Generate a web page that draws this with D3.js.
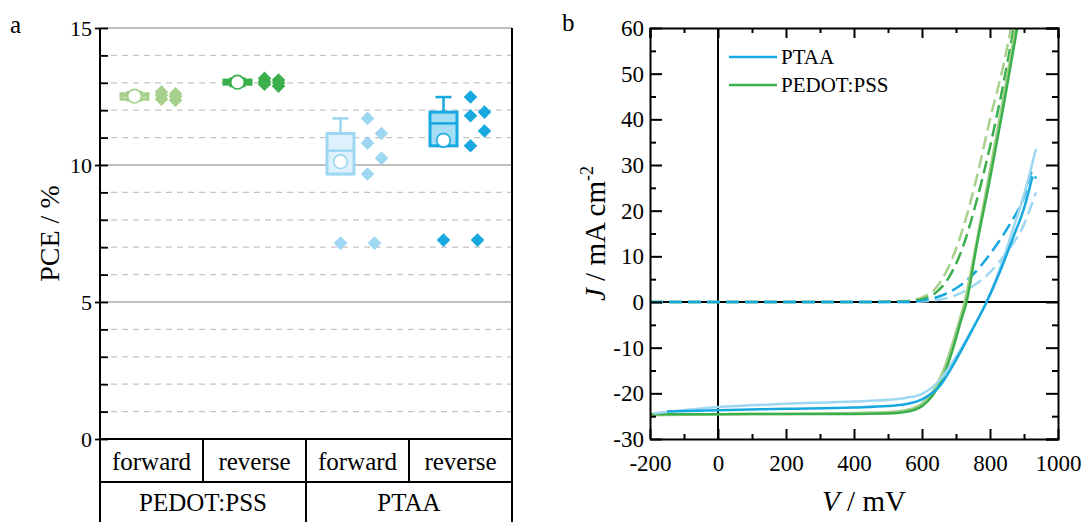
<!DOCTYPE html>
<html>
<head>
<meta charset="utf-8">
<script src="https://cdn.jsdelivr.net/npm/d3@7"></script>
<style>
  html, body { margin: 0; padding: 0; background: #fff; }
  svg { display: block; font-family: "Liberation Serif", "Times New Roman", serif; }
</style>
</head>
<body>
<svg id="chart" width="1091" height="522"></svg>
<script>
// ---------- Panel a: PCE statistics ----------
const scanCategories = ["forward", "reverse", "forward", "reverse"];
const htlGroups = ["PEDOT:PSS", "PTAA"];
const pceTicks = [0, 5, 10, 15];

const pcePedotForward = [12.40, 12.66, 12.50, 12.60, 12.36, 12.55];
const pcePedotReverse = [13.16, 13.05, 12.95, 13.10, 12.88, 13.00];
const pcePtaaForward  = [11.70, 11.15, 10.80, 10.25, 9.67, 7.15];
const pcePtaaReverse  = [12.48, 11.93, 11.80, 11.24, 10.70, 7.26];

// ---------- Panel b: J-V curves ----------
const voltTicks = [-200, 0, 200, 400, 600, 800, 1000];
const currTicks = [-30, -20, -10, 0, 10, 20, 30, 40, 50, 60];
const legendNames = ["PTAA", "PEDOT:PSS"];

// illuminated scans
const vPtaaLight1 = [-150, 0, 200, 400, 500, 550, 600, 650, 700, 750, 790, 830, 870, 900, 925];
const jPtaaLight1 = [-24.0, -23.7, -23.4, -23.1, -22.8, -22.4, -21.3, -18.6, -12.7, -5.8, 0, 6.8, 14.5, 20.5, 27.5];
const vPtaaLight2 = [-190, 0, 200, 400, 500, 550, 600, 650, 700, 750, 790, 830, 870, 900, 935];
const jPtaaLight2 = [-24.4, -23.0, -22.3, -21.8, -21.4, -21.0, -20.1, -17.3, -12.0, -5.6, 0, 7.5, 16.5, 23.5, 33.5];
const vPedotLight1 = [-200, 0, 200, 400, 500, 550, 600, 630, 660, 690, 715, 731, 760, 800, 840, 880];
const jPedotLight1 = [-24.6, -24.6, -24.5, -24.5, -24.4, -24.1, -22.8, -20.6, -16.8, -10.5, -4.0, 0, 12.0, 27.0, 43.0, 60.0];
const vPedotLight2 = [-200, 0, 200, 400, 500, 550, 600, 630, 660, 690, 712, 725, 760, 800, 840, 875];
const jPedotLight2 = [-24.8, -24.6, -24.5, -24.3, -24.1, -23.7, -22.2, -19.8, -15.5, -9.0, -3.5, 0, 13.0, 29.0, 45.0, 60.0];

// dark scans
const vPtaaDark1 = [-200, 400, 550, 600, 650, 700, 750, 800, 850, 900, 925, 935];
const jPtaaDark1 = [0, 0, 0, 0.3, 1.2, 3.0, 6.0, 10.5, 16.0, 23.0, 28.5, 27.0];
const vPtaaDark2 = [-200, 400, 550, 600, 650, 700, 750, 800, 850, 900, 935];
const jPtaaDark2 = [0, 0, 0, 0.1, 0.5, 1.5, 3.5, 6.5, 11.0, 17.0, 24.0];
const vPedotDark1 = [-200, 400, 550, 600, 640, 680, 720, 760, 800, 840, 870];
const jPedotDark1 = [0, 0, 0.1, 0.6, 2.0, 5.5, 12.0, 22.0, 34.0, 48.0, 60.0];
const vPedotDark2 = [-200, 400, 550, 600, 640, 680, 720, 760, 800, 840, 862];
const jPedotDark2 = [0, 0, 0.2, 1.0, 3.0, 8.0, 16.0, 27.0, 40.0, 52.0, 60.0];

// ---------- styling ----------
const C = {
  blue: "#18a8e0", blueLight: "#9dd7f1",
  green: "#3aaf4c", greenLight: "#a7d08c",
  grid: "#c4c4c4", gridMajor: "#a8a8a8"
};
const FONT = "Liberation Serif";
const svg = d3.select("#chart");
const intFmt = d => String(d);   // plain hyphen for negatives

// ================= Panel a =================
const ax = { left: 100, right: 512, top: 28, bottom: 439, row1: 482, row2: 522 };
const yPce = d3.scaleLinear().domain([0, 15]).range([ax.bottom, ax.top]);
const xCat = d3.scaleBand().domain(d3.range(scanCategories.length)).range([ax.left, ax.right]);
const xGrp = d3.scaleBand().domain(htlGroups).range([ax.left, ax.right]);

const gA = svg.append("g");

// gridlines: solid at labelled values, dashed in between
gA.append("g").selectAll("line").data(d3.range(1, 16)).join("line")
  .attr("x1", ax.left).attr("x2", ax.right)
  .attr("y1", d => yPce(d)).attr("y2", d => yPce(d))
  .attr("stroke", d => pceTicks.includes(d) ? C.gridMajor : C.grid)
  .attr("stroke-width", d => pceTicks.includes(d) ? 1.3 : 1.2)
  .attr("stroke-dasharray", d => pceTicks.includes(d) ? null : "6,5");

// y axis
gA.append("g").attr("transform", `translate(${ax.left},0)`)
  .call(d3.axisRight(yPce).tickValues(d3.range(0, 16)).tickSize(8).tickFormat(""))
  .call(g => g.select(".domain").remove())
  .call(g => g.selectAll("line").attr("stroke", "#000").attr("stroke-width", 1.8));
gA.append("g").attr("transform", `translate(${ax.left},0)`)
  .call(d3.axisLeft(yPce).tickValues(pceTicks).tickSize(5).tickPadding(3))
  .call(g => g.select(".domain").remove())
  .call(g => g.selectAll("line").attr("stroke", "#000").attr("stroke-width", 1.8))
  .call(g => g.selectAll("text").attr("font-family", FONT).attr("font-size", 22).attr("fill", "#000"));

gA.append("line").attr("x1", ax.left).attr("x2", ax.left).attr("y1", ax.top).attr("y2", ax.row2)
  .attr("stroke", "#000").attr("stroke-width", 2);
gA.append("line").attr("x1", ax.right).attr("x2", ax.right).attr("y1", ax.top).attr("y2", ax.row2)
  .attr("stroke", "#000").attr("stroke-width", 2);

// category table
[ax.bottom, ax.row1].forEach(yy =>
  gA.append("line").attr("x1", ax.left).attr("x2", ax.right).attr("y1", yy).attr("y2", yy)
    .attr("stroke", "#000").attr("stroke-width", 2));
gA.append("g").selectAll("line").data(d3.range(1, scanCategories.length)).join("line")
  .attr("x1", d => xCat(d)).attr("x2", d => xCat(d))
  .attr("y1", ax.bottom).attr("y2", ax.row1).attr("stroke", "#000").attr("stroke-width", 2);
gA.append("line").attr("x1", xGrp(htlGroups[1])).attr("x2", xGrp(htlGroups[1]))
  .attr("y1", ax.row1).attr("y2", ax.row2).attr("stroke", "#000").attr("stroke-width", 2);
gA.append("g").selectAll("text").data(scanCategories).join("text")
  .attr("x", (d, i) => xCat(i) + xCat.bandwidth() / 2).attr("y", 470)
  .attr("text-anchor", "middle").attr("font-size", 25).text(d => d);
gA.append("g").selectAll("text").data(htlGroups).join("text")
  .attr("x", d => xGrp(d) + xGrp.bandwidth() / 2).attr("y", 511)
  .attr("text-anchor", "middle").attr("font-size", 25).text(d => d);

gA.append("text").attr("transform", `translate(59,${(ax.top + ax.bottom) / 2}) rotate(-90)`)
  .attr("text-anchor", "middle").attr("font-size", 28).text("PCE / %");
svg.append("text").attr("x", 10).attr("y", 33).attr("font-size", 25).text("a");

// box statistics with Tukey hinges and 1.5 IQR whiskers
function boxStats(vals) {
  const s = vals.slice().sort(d3.ascending);
  const n = s.length, h = Math.floor(n / 2);
  const q1 = d3.median(s.slice(0, h)), q3 = d3.median(s.slice(n - h)), med = d3.median(s);
  const iqr = q3 - q1, lo = q1 - 1.5 * iqr, hi = q3 + 1.5 * iqr;
  const inside = s.filter(v => v >= lo && v <= hi);
  return { q1, q3, med, mean: d3.mean(s), wLo: d3.min(inside), wHi: d3.max(inside),
           outliers: s.filter(v => v < lo || v > hi) };
}

// points that sit close together vertically alternate left/right of the column
function jitter(vals, cx, y, spread = 7, near = 17) {
  const order = vals.map((v, i) => i).sort((a, b) => vals[b] - vals[a]);
  const out = new Array(vals.length);
  let cluster = [];
  const flush = () => {
    cluster.forEach((i, k) => {
      const off = cluster.length < 2 ? 0 : (k % 2 ? 1 : -1) * spread;
      out[i] = { x: cx + off, y: y(vals[i]) };
    });
    cluster = [];
  };
  order.forEach(i => {
    if (cluster.length && y(vals[i]) - y(vals[cluster[cluster.length - 1]]) >= near) flush();
    cluster.push(i);
  });
  flush();
  return out;
}

const diamondPath = "M0,-6.8L6.8,0L0,6.8L-6.8,0Z";

const boxSeries = [
  { vals: pcePedotForward, stroke: C.greenLight, fill: "#e2f0d8" },
  { vals: pcePedotReverse, stroke: C.green, fill: "#bfe3c4" },
  { vals: pcePtaaForward,  stroke: C.blueLight, fill: "#dcf1fb" },
  { vals: pcePtaaReverse,  stroke: C.blue, fill: "#a5ddf4" }
];

const boxW = 27;
boxSeries.forEach((b, i) => {
  const cx = xCat(i) + xCat.bandwidth() / 2;
  const bx = cx - 17, px = cx + 17;
  const st = boxStats(b.vals);
  const g = gA.append("g");
  // whiskers
  g.append("line").attr("x1", bx).attr("x2", bx).attr("y1", yPce(st.q3)).attr("y2", yPce(st.wHi))
    .attr("stroke", b.stroke).attr("stroke-width", 2.5);
  g.append("line").attr("x1", bx).attr("x2", bx).attr("y1", yPce(st.q1)).attr("y2", yPce(st.wLo))
    .attr("stroke", b.stroke).attr("stroke-width", 2.5);
  [st.wHi, st.wLo].forEach(w => g.append("line")
    .attr("x1", bx - 8).attr("x2", bx + 8).attr("y1", yPce(w)).attr("y2", yPce(w))
    .attr("stroke", b.stroke).attr("stroke-width", 2.5));
  // box
  g.append("rect").attr("x", bx - boxW / 2).attr("width", boxW)
    .attr("y", yPce(st.q3)).attr("height", Math.max(0.5, yPce(st.q1) - yPce(st.q3)))
    .attr("fill", b.fill).attr("stroke", b.stroke).attr("stroke-width", 3);
  g.append("line").attr("x1", bx - boxW / 2).attr("x2", bx + boxW / 2)
    .attr("y1", yPce(st.med)).attr("y2", yPce(st.med)).attr("stroke", b.stroke).attr("stroke-width", 2.5);
  // mean
  g.append("circle").attr("cx", bx).attr("cy", yPce(st.mean)).attr("r", 6.8)
    .attr("fill", "#fff").attr("stroke", b.stroke).attr("stroke-width", 1.6);
  // outliers at the box position
  g.selectAll(".out").data(st.outliers).join("path").attr("class", "out")
    .attr("d", diamondPath).attr("transform", d => `translate(${bx},${yPce(d)})`)
    .attr("fill", b.stroke);
  // raw data beside the box
  g.selectAll(".pt").data(jitter(b.vals, px, yPce)).join("path").attr("class", "pt")
    .attr("d", diamondPath).attr("transform", d => `translate(${d.x},${d.y})`)
    .attr("fill", b.stroke);
});

// ================= Panel b =================
const bx0 = 650, bx1 = 1058, by0 = 28, by1 = 439;
const xV = d3.scaleLinear().domain([-200, 1000]).range([bx0, bx1]);
const yJ = d3.scaleLinear().domain([-30, 60]).range([by1, by0]);
const gB = svg.append("g");

const zip = (v, j) => v.map((d, i) => [d, j[i]]);
const line = d3.line().x(d => xV(d[0])).y(d => yJ(d[1])).curve(d3.curveMonotoneX);

// zero lines (below curves)
gB.append("line").attr("x1", bx0).attr("x2", bx1).attr("y1", yJ(0)).attr("y2", yJ(0))
  .attr("stroke", "#000").attr("stroke-width", 2);
gB.append("line").attr("x1", xV(0)).attr("x2", xV(0)).attr("y1", by0).attr("y2", by1)
  .attr("stroke", "#000").attr("stroke-width", 2);

const curves = [
  { v: vPtaaDark2, j: jPtaaDark2, c: C.blueLight, dash: true },
  { v: vPedotDark2, j: jPedotDark2, c: C.greenLight, dash: true },
  { v: vPedotDark1, j: jPedotDark1, c: C.green, dash: true },
  { v: vPtaaDark1, j: jPtaaDark1, c: C.blue, dash: true },
  { v: vPedotLight2, j: jPedotLight2, c: C.greenLight, dash: false },
  { v: vPedotLight1, j: jPedotLight1, c: C.green, dash: false },
  { v: vPtaaLight2, j: jPtaaLight2, c: C.blueLight, dash: false },
  { v: vPtaaLight1, j: jPtaaLight1, c: C.blue, dash: false }
];
svg.append("defs").append("clipPath").attr("id", "plotb")
  .append("rect").attr("x", bx0).attr("y", by0).attr("width", bx1 - bx0).attr("height", by1 - by0);
gB.append("g").attr("clip-path", "url(#plotb)").selectAll("path").data(curves).join("path")
  .attr("d", d => line(zip(d.v, d.j)))
  .attr("fill", "none").attr("stroke", d => d.c).attr("stroke-width", 2.5)
  .attr("stroke-dasharray", d => d.dash ? "13,6" : null);

// frame with inward ticks on all sides
function ticksStyle(g) {
  g.select(".domain").attr("stroke", "#000").attr("stroke-width", 2);
  g.selectAll(".tick line").attr("stroke", "#000").attr("stroke-width", 2);
  g.selectAll(".tick text").attr("font-family", FONT).attr("font-size", 23).attr("fill", "#000");
}
const minorV = d3.range(-100, 1000, 200), minorJ = d3.range(-25, 60, 10);
// bottom
gB.append("g").attr("transform", `translate(0,${by1})`)
  .call(d3.axisBottom(xV).tickValues(voltTicks).tickSizeInner(-10).tickSizeOuter(0).tickPadding(16).tickFormat(intFmt))
  .call(ticksStyle);
gB.append("g").attr("transform", `translate(0,${by1})`)
  .call(d3.axisBottom(xV).tickValues(minorV).tickSize(-5).tickFormat(""))
  .call(ticksStyle).call(g => g.select(".domain").remove());
// top
gB.append("g").attr("transform", `translate(0,${by0})`)
  .call(d3.axisTop(xV).tickValues(voltTicks).tickSize(-10).tickFormat("")).call(ticksStyle);
gB.append("g").attr("transform", `translate(0,${by0})`)
  .call(d3.axisTop(xV).tickValues(minorV).tickSize(-5).tickFormat(""))
  .call(ticksStyle).call(g => g.select(".domain").remove());
// left
gB.append("g").attr("transform", `translate(${bx0},0)`)
  .call(d3.axisLeft(yJ).tickValues(currTicks).tickSizeInner(-12).tickSizeOuter(0).tickFormat(intFmt))
  .call(ticksStyle)
  .call(g => g.selectAll(".tick text").attr("x", -6));
gB.append("g").attr("transform", `translate(${bx0},0)`)
  .call(d3.axisLeft(yJ).tickValues(minorJ).tickSize(-6).tickFormat(""))
  .call(ticksStyle).call(g => g.select(".domain").remove());
// right
gB.append("g").attr("transform", `translate(${bx1},0)`)
  .call(d3.axisRight(yJ).tickValues(currTicks).tickSize(-12).tickFormat("")).call(ticksStyle);
gB.append("g").attr("transform", `translate(${bx1},0)`)
  .call(d3.axisRight(yJ).tickValues(minorJ).tickSize(-6).tickFormat(""))
  .call(ticksStyle).call(g => g.select(".domain").remove());

// legend
const leg = gB.append("g").attr("transform", "translate(729,57)");
legendNames.forEach((name, i) => {
  const row = leg.append("g").attr("transform", `translate(0,${i * 28})`);
  row.append("line").attr("x1", 0).attr("x2", 48).attr("stroke", i === 0 ? C.blue : C.green).attr("stroke-width", 2.5);
  row.append("text").attr("x", 52).attr("y", 7).attr("font-size", 21).text(name);
});

// axis titles
const yt = gB.append("text").attr("transform", `translate(605,${(by0 + by1) / 2}) rotate(-90)`)
  .attr("text-anchor", "middle").attr("font-size", 29);
yt.append("tspan").attr("font-style", "italic").text("J");
yt.append("tspan").text(" / mA cm");
yt.append("tspan").attr("font-size", 18).attr("dy", -12).text("-2");

const xt = gB.append("text").attr("x", (bx0 + bx1) / 2 + 10).attr("y", 511)
  .attr("text-anchor", "middle").attr("font-size", 29);
xt.append("tspan").attr("font-style", "italic").text("V");
xt.append("tspan").text(" / mV");

svg.append("text").attr("x", 562).attr("y", 31).attr("font-size", 25).text("b");
</script>
</body>
</html>
